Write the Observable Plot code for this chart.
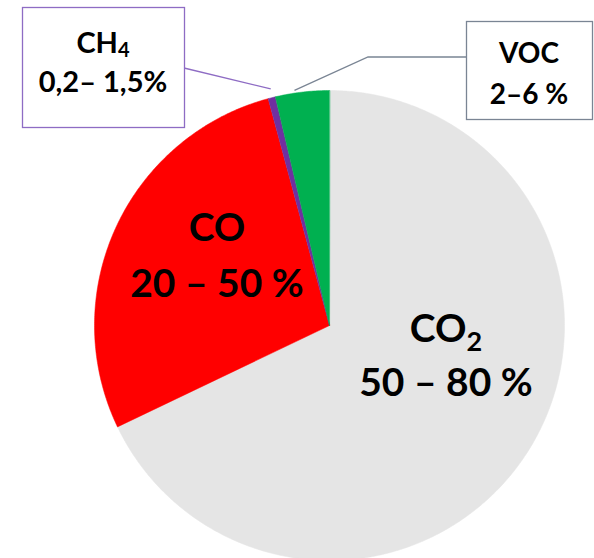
<!DOCTYPE html>
<html><head><meta charset="utf-8">
<script src="https://cdn.jsdelivr.net/npm/d3@7"></script>
<script src="https://cdn.jsdelivr.net/npm/@observablehq/plot@0.6"></script>
<style>
html,body{margin:0;padding:0;background:#fff;}
#chart{position:relative;width:594px;height:558px;overflow:hidden;}
</style></head>
<body><div id="chart"></div>
<script>
// Data (shares in %)
const names = ["CO2", "CO", "CH4", "VOC"];
const shares = [67.9, 27.9, 0.5, 3.7];
const colors = ["#e5e5e5", "#ff0000", "#7030a0", "#00b050"];
const labelMain = ["CO", "CO", "CH", "VOC"];
const labelSub = ["2", "", "4", ""];
const labelRange = ["50 – 80 %", "20 – 50 %", "0,2– 1,5%", "2–6 %"];

// Build slice polygons (unit circle, clockwise from 12 o'clock)
const total = d3.sum(shares);
let acc = 0;
const slices = names.map((n, i) => {
  const a0 = acc / total * 2 * Math.PI;
  acc += shares[i];
  const a1 = acc / total * 2 * Math.PI;
  const pts = [{x: 0, y: 0}];
  const steps = Math.max(2, Math.ceil((a1 - a0) / (Math.PI / 360)));
  for (let k = 0; k <= steps; k++) {
    const a = a0 + (a1 - a0) * k / steps;
    pts.push({x: Math.sin(a), y: Math.cos(a)});
  }
  return {name: n, color: colors[i], pts, a0, a1};
});

const plot = Plot.plot({
  width: 594, height: 558,
  margin: 0,
  x: {domain: [-1, 1], range: [94, 564], axis: null},
  y: {domain: [-1, 1], range: [560, 90], axis: null},
  marks: slices.map(s => Plot.line(s.pts, {x: "x", y: "y", fill: s.color, stroke: s.color, strokeWidth: 0.5, curve: "linear-closed"}))
});
document.getElementById("chart").appendChild(plot);

const X = plot.scale("x"), Y = plot.scale("y");
const svg = d3.select(plot);
const font = "Lato, 'Open Sans', sans-serif";

// helper: point on rim of slice i at fraction t of its angle span
function rim(i, t, r = 1) {
  const s = slices[i];
  const a = s.a0 + (s.a1 - s.a0) * t;
  return [X.apply(r * Math.sin(a)), Y.apply(r * Math.cos(a))];
}

// leader lines
const ch4 = rim(2, 0.5, 1.01);
svg.append("path").attr("d", `M184,68L${ch4[0]},${ch4[1] - 6}`)
  .attr("stroke", "#8e6cc4").attr("stroke-width", 1.3).attr("fill", "none");
const voc = rim(3, 0.55, 1.0);
svg.append("path").attr("d", `M${voc[0] - 10},${voc[1] - 1}L368,57L466,57`)
  .attr("stroke", "#7a8594").attr("stroke-width", 1.3).attr("fill", "none");

// boxes
svg.append("rect").attr("x", 22.5).attr("y", 7.5).attr("width", 162).attr("height", 120)
  .attr("fill", "#fff").attr("stroke", "#8e6cc4").attr("stroke-width", 1.3);
svg.append("rect").attr("x", 466.5).attr("y", 21.5).attr("width", 126).attr("height", 98)
  .attr("fill", "#fff").attr("stroke", "#7a8594").attr("stroke-width", 1.3);

// labels: [index, cx, baseline1, baseline2, fontSize, subDy]
const labelPos = [
  [0, 446, 342, 396, 39, 9],
  [1, 217, 241, 297, 39, 0],
  [2, 103, 53, 92, 29, 4],
  [3, 529, 63, 104, 28, 0]
];
labelPos.forEach(([i, cx, b1, b2, fs, sdy]) => {
  const t1 = svg.append("text").attr("x", cx).attr("y", b1).attr("text-anchor", "middle")
    .attr("font-family", font).attr("font-weight", 700).attr("font-size", fs).attr("fill", "#000");
  t1.append("tspan").text(labelMain[i]);
  if (labelSub[i]) t1.append("tspan").attr("font-size", Math.round(fs * 0.68)).attr("dy", sdy).text(labelSub[i]);
  svg.append("text").attr("x", cx).attr("y", b2).attr("text-anchor", "middle")
    .attr("font-family", font).attr("font-weight", 700).attr("font-size", fs).attr("fill", "#000")
    .text(labelRange[i]);
});
</script></body></html>
